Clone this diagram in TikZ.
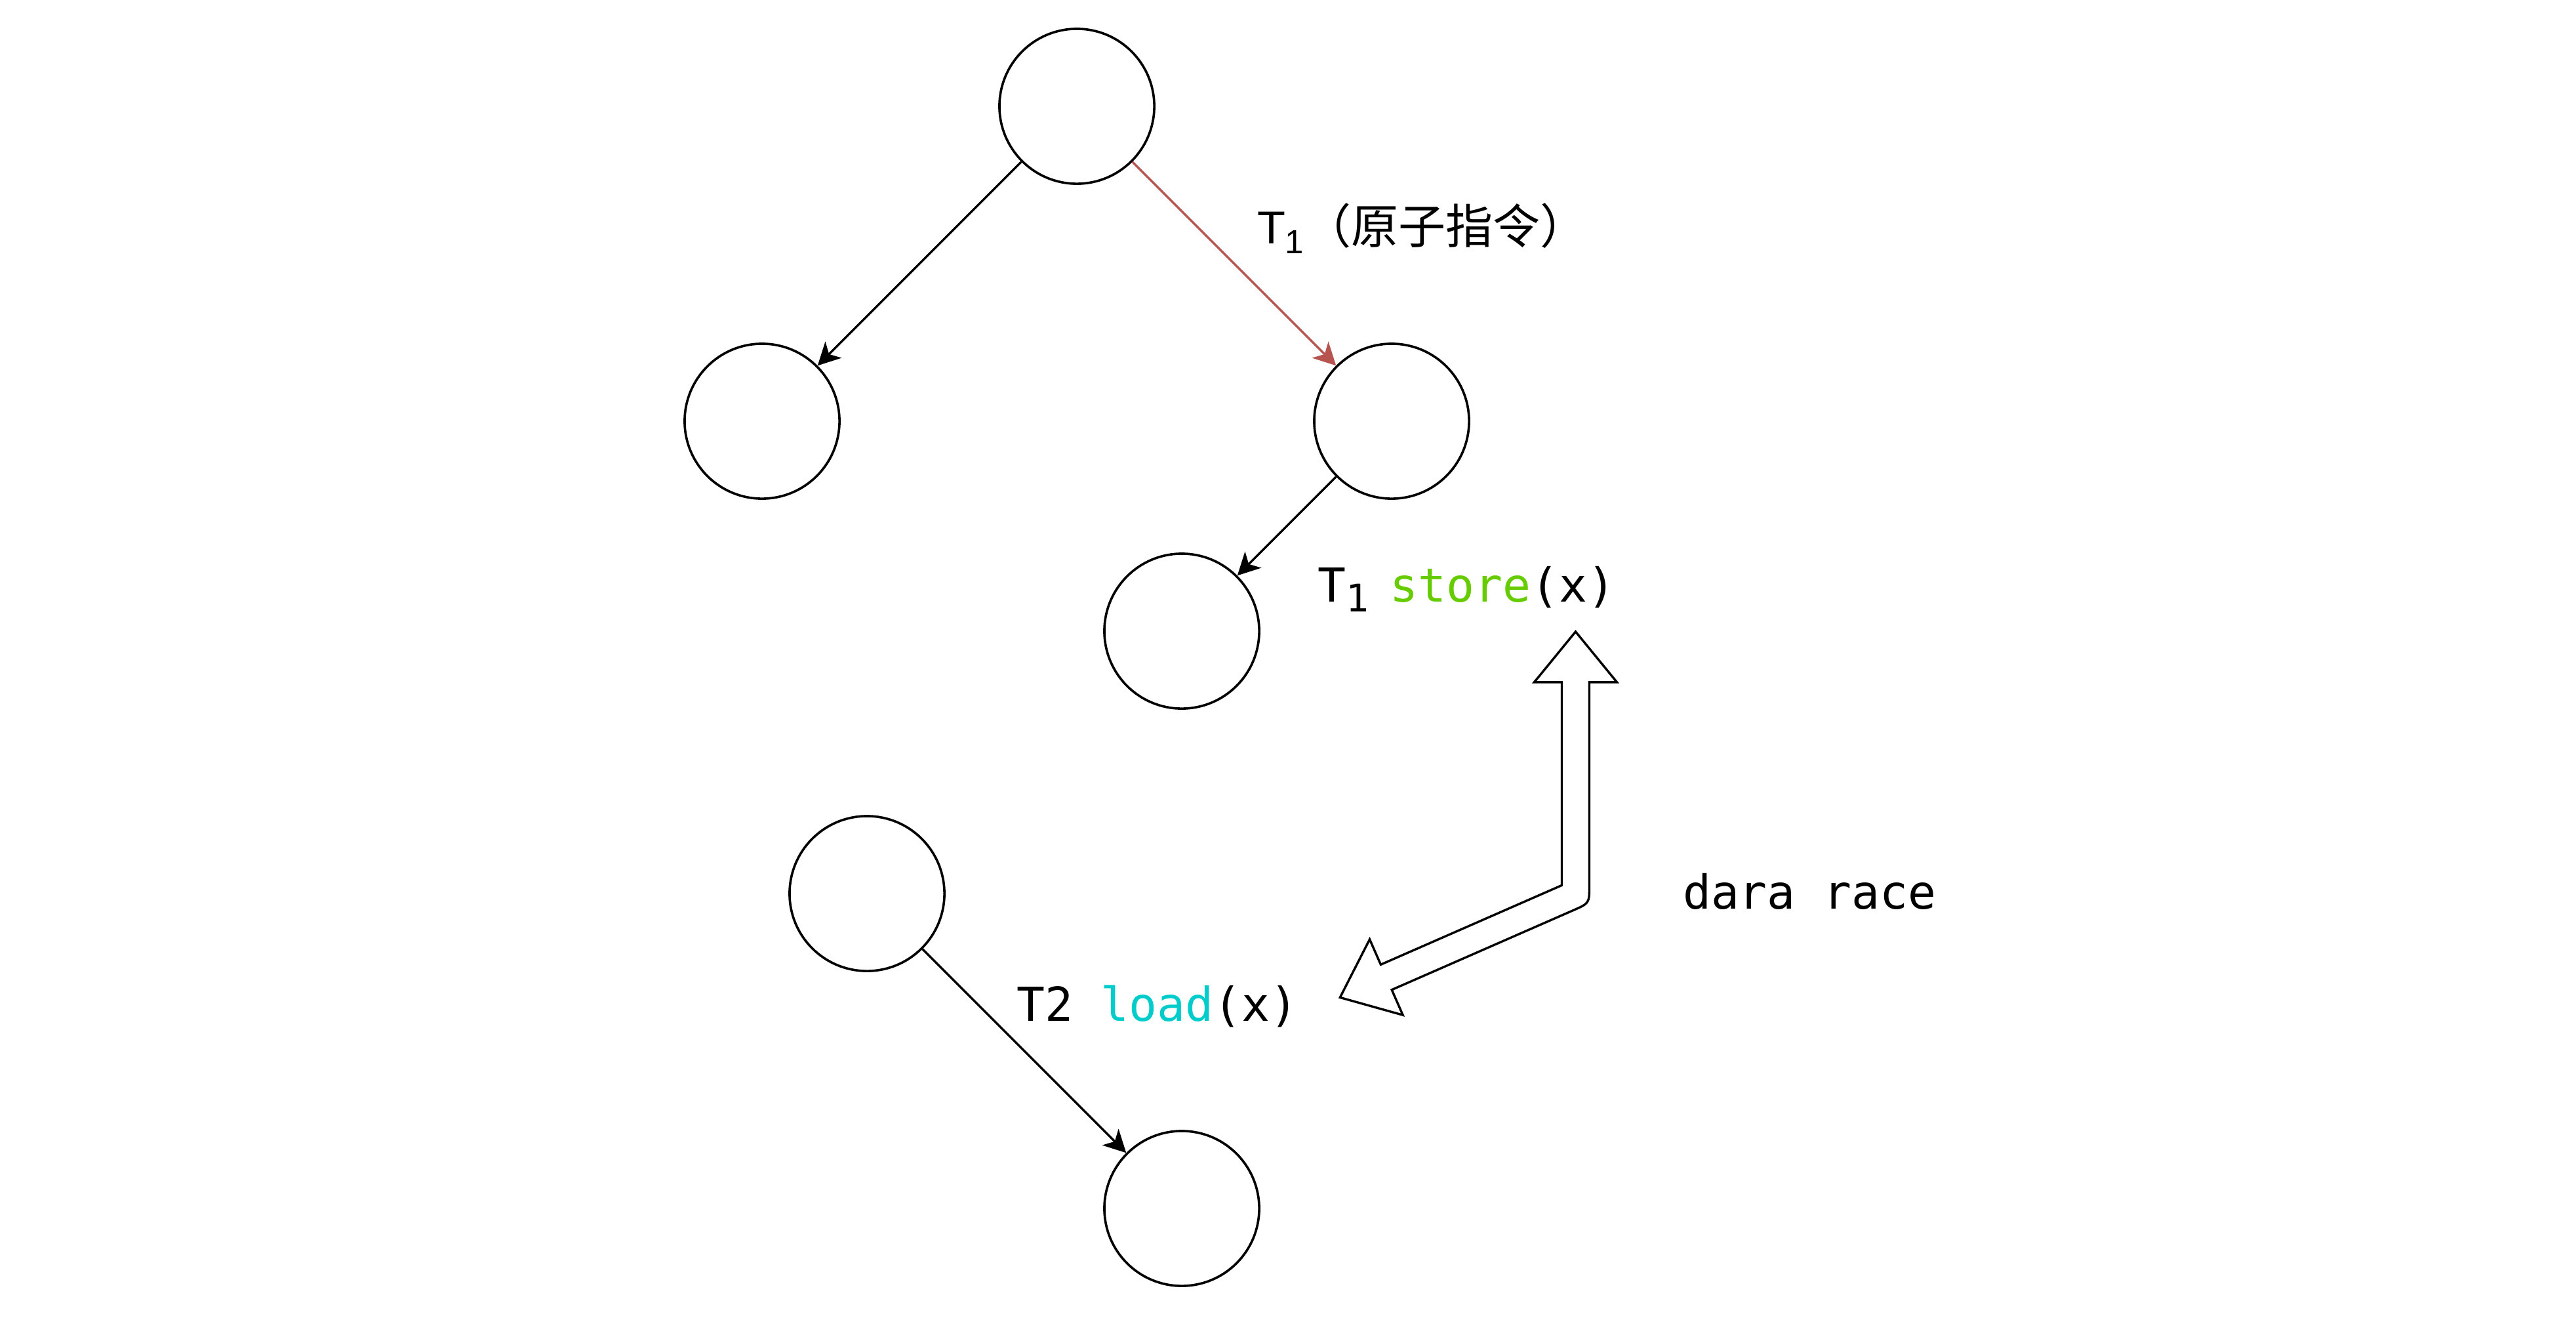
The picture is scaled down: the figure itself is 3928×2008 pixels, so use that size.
\documentclass[tikz,border=0pt]{standalone}
\usepackage{fontspec}
\usetikzlibrary{arrows.meta}
\newfontfamily\monof{DejaVu Sans Mono}
\newfontfamily\sansf{Liberation Sans}
\newfontfamily\cjk{Noto Sans CJK SC}
\definecolor{edred}{HTML}{B85450}
\definecolor{stgreen}{HTML}{66CC00}
\definecolor{ldcyan}{HTML}{00CCCC}
\tikzset{
  nd/.style={circle, draw, line width=0.036cm, minimum size=2.36cm, inner sep=0pt},
  ed/.style={line width=0.034cm, -{Stealth[length=0.34cm,width=0.35cm,inset=0.094cm]}},
  lbl/.style={anchor=base west, inner sep=0pt, outer sep=0pt},
  mono/.style={font=\monof\fontsize{20.3pt}{24pt}\selectfont},
  blockarrow/.style={draw, line width=0.034cm, fill=white}
}
\begin{document}
\begin{tikzpicture}[x=0.01cm, y=-0.01cm]
\fill[white] (0,0) rectangle (3928,2008);
\useasboundingbox (0,0) rectangle (3928,2008);

% nodes
\node[nd] (top) at (1642,162) {};
\node[nd] (left) at (1162,642) {};
\node[nd] (right) at (2122,642) {};
\node[nd] (child) at (1802,962) {};
\node[nd] (ttop) at (1322,1362) {};
\node[nd] (tbot) at (1802,1842) {};

% connectors
\draw[ed] (top) -- (left);
\draw[ed, draw=edred, fill=edred] (top) -- (right);
\draw[ed] (right) -- (child);
\draw[ed] (ttop) -- (tbot);

% labels
\node[lbl] (atomic) at (1917,371) {\sansf\fontsize{20pt}{24pt}\selectfont T\raisebox{-4.5pt}{\fontsize{14.5pt}{16pt}\selectfont 1}\cjk\fontsize{20.5pt}{24pt}\selectfont （原子指令）};
\node[lbl, mono] (store) at (2009,917) {T\raisebox{-4.3pt}{\fontsize{16.5pt}{18pt}\selectfont 1}\kern-3pt{} \textcolor{stgreen}{store}(x)};
\node[lbl, mono] (load) at (1550,1556) {T2 \textcolor{ldcyan}{load}(x)};
\node[lbl, mono] (race) at (2566,1385) {dara race};

% double-headed block arrow
\coordinate (a1) at (2402.5,962.8);
\coordinate (a2) at (2465.5,1039.8);
\coordinate (a3) at (2423.5,1039.8);
\coordinate (a4) at (2423.5,1349.8);
\coordinate (a4c) at (2423.5,1376.8);
\coordinate (a4e) at (2398.8,1387.6);
\coordinate (a5) at (2122.2,1508.7);
\coordinate (a6) at (2139.1,1547.2);
\coordinate (a7) at (2043.3,1520.4);
\coordinate (a8) at (2088.5,1431.8);
\coordinate (a9) at (2105.4,1470.3);
\coordinate (a10) at (2381.5,1349.4);
\coordinate (a11) at (2381.5,1039.8);
\coordinate (a12) at (2339.5,1039.8);
\path[blockarrow] (a1) -- (a2) -- (a3) -- (a4) .. controls (a4c) .. (a4e) -- (a5) -- (a6) -- (a7) -- (a8) -- (a9) -- (a10) -- (a11) -- (a12) -- cycle;
\end{tikzpicture}
\end{document}
